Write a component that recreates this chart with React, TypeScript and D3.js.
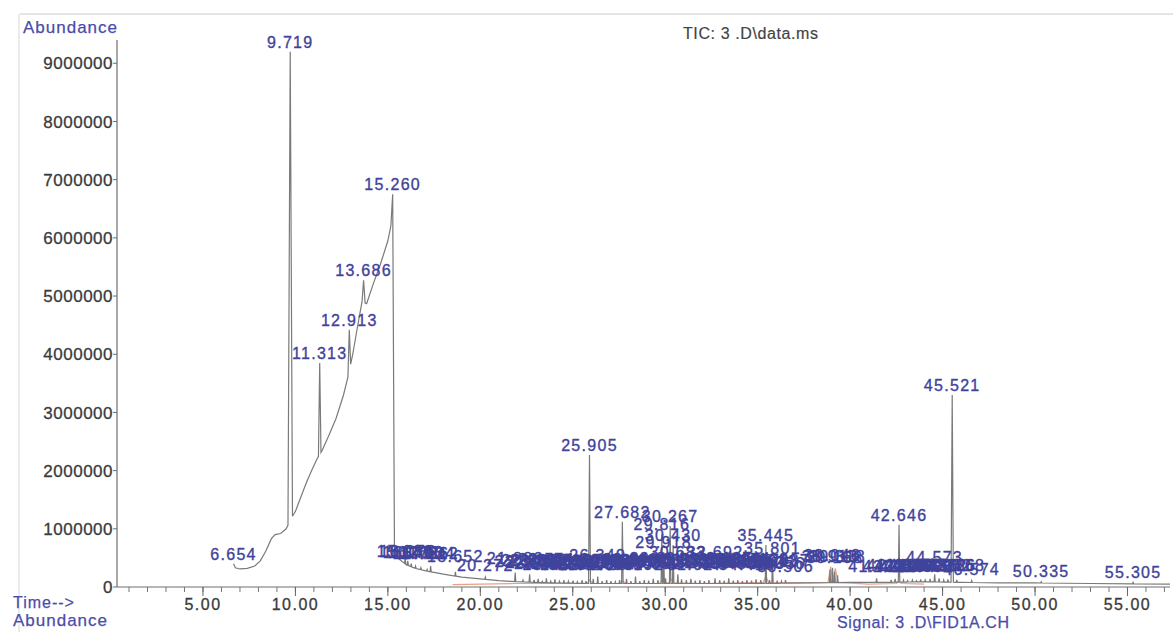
import React from "react";
import * as d3 from "d3";

// TIC trace baseline (minutes, abundance) without the spikes
const baseline: [number, number][] = [
  [6.654, 400000], [6.75, 330000], [7.0, 310000], [7.4, 320000], [7.8, 360000],
  [8.1, 450000], [8.4, 620000], [8.7, 830000], [8.9, 900000], [9.2, 920000],
  [9.5, 1000000], [9.65, 1100000], [9.85, 1220000], [10.0, 1300000], [10.3, 1550000],
  [10.6, 1800000], [10.9, 2020000], [11.2, 2220000], [11.45, 2350000], [11.8, 2600000],
  [12.2, 2900000], [12.6, 3300000], [12.85, 3620000], [13.1, 4000000], [13.4, 4550000],
  [13.6, 4900000], [13.85, 4870000], [14.2, 5200000], [14.6, 5550000], [15.0, 5950000],
  [15.22, 6300000], [15.32, 550000], [15.6, 480000], [16.0, 380000], [16.5, 320000],
  [17.0, 280000], [17.5, 250000], [18.0, 220000], [19.0, 170000], [20.0, 140000],
  [21.0, 110000], [22.0, 90000], [24.0, 70000], [26.0, 60000], [30.0, 60000],
  [35.0, 60000], [38.0, 70000], [40.0, 80000], [42.0, 80000], [44.0, 90000],
  [46.0, 80000], [48.0, 70000], [50.0, 70000], [53.0, 60000], [57.3, 50000],
];

// big labelled peaks: retention time, apex abundance (label sits on the apex)
const majorPeaks: [number, number][] = [
  [6.654, 400000], [9.719, 9200000], [11.313, 3850000], [12.913, 4420000],
  [13.686, 5270000], [15.26, 6750000], [25.905, 2270000], [27.682, 1120000],
  [29.816, 910000], [29.918, 600000], [30.267, 1050000], [30.43, 720000],
  [35.445, 720000], [35.801, 500000], [42.646, 1070000], [45.521, 3300000],
];

// small peaks: retention time, apex abundance, label level
const minorPeaks: [number, number, number][] = [
  [15.936, 500000, 440000], [16.076, 450000, 440000], [16.262, 400000, 430000],
  [16.498, 360000, 430000], [16.786, 330000, 420000], [17.124, 300000, 420000],
  [17.312, 360000, 410000], [18.652, 260000, 360000], [20.272, 170000, 200000],
  [21.886, 250000, 320000], [22.307, 120000, 270000], [22.667, 220000, 300000],
  [22.905, 120000, 250000], [23.128, 140000, 290000], [23.351, 100000, 240000],
  [23.574, 150000, 310000], [23.812, 100000, 220000], [24.035, 130000, 280000],
  [24.281, 100000, 240000], [24.518, 120000, 300000], [24.764, 100000, 220000],
  [25.012, 110000, 270000], [25.248, 90000, 240000], [25.503, 120000, 290000],
  [25.718, 100000, 220000], [26.107, 140000, 260000], [26.349, 180000, 380000],
  [26.588, 100000, 280000], [26.832, 120000, 240000], [27.064, 100000, 300000],
  [27.301, 90000, 220000], [27.533, 120000, 280000], [27.907, 140000, 250000],
  [28.146, 100000, 310000], [28.392, 180000, 230000], [28.624, 100000, 290000],
  [28.867, 120000, 250000], [29.105, 110000, 300000], [29.352, 140000, 240000],
  [29.604, 120000, 320000], [30.018, 150000, 280000], [30.683, 220000, 430000],
  [30.883, 130000, 300000], [31.142, 120000, 250000], [31.386, 140000, 310000],
  [31.627, 110000, 230000], [31.873, 120000, 290000], [32.118, 100000, 260000],
  [32.364, 120000, 310000], [32.692, 150000, 430000], [32.945, 120000, 270000],
  [33.187, 110000, 320000], [33.436, 150000, 240000], [33.681, 110000, 300000],
  [33.925, 120000, 260000], [34.174, 100000, 310000], [34.418, 120000, 230000],
  [34.667, 110000, 290000], [34.912, 130000, 250000], [35.168, 120000, 310000],
  [35.642, 120000, 270000], [36.056, 110000, 240000], [36.287, 100000, 300000],
  [36.506, 120000, 190000], [38.913, 300000, 360000], [39.046, 330000, 370000],
  [39.168, 260000, 350000], [39.318, 200000, 360000], [41.432, 150000, 190000],
  [42.218, 120000, 190000], [42.432, 140000, 200000], [42.885, 120000, 210000],
  [43.104, 110000, 190000], [43.367, 120000, 200000], [43.592, 110000, 210000],
  [43.815, 130000, 200000], [44.058, 120000, 190000], [44.326, 140000, 210000],
  [44.573, 220000, 340000], [44.812, 150000, 210000], [45.062, 120000, 200000],
  [45.286, 130000, 210000], [45.768, 120000, 200000], [46.574, 110000, 140000],
  [50.335, 90000, 100000], [55.305, 80000, 80000],
];

// FID signal overlay (orange, near the baseline)
const fidTrace: [number, number][] = [
  [18.5, 40000], [20.0, 50000], [22.0, 60000], [24.0, 60000], [25.8, 60000],
  [25.9, 120000], [26.1, 60000], [27.6, 60000], [27.7, 100000], [27.9, 60000],
  [29.7, 60000], [29.8, 120000], [30.0, 70000], [30.2, 70000], [30.3, 140000],
  [30.5, 70000], [32.0, 60000], [35.3, 80000], [35.45, 180000], [35.6, 70000],
  [38.8, 80000], [38.95, 350000], [39.05, 120000], [39.2, 320000], [39.35, 80000],
  [41.0, 50000], [42.5, 60000], [42.6, 90000], [42.8, 60000], [44.0, 50000],
];

const yTicks = [0, 1000000, 2000000, 3000000, 4000000, 5000000, 6000000, 7000000, 8000000, 9000000];
const xMajor = [5, 10, 15, 20, 25, 30, 35, 40, 45, 50, 55];
const xMinor = d3.range(1, 58);

const FONT = "'Liberation Sans', Arial, sans-serif";
const BLUE = "#3f439c";
const AXIS_BLUE = "#4a4caa";

const baseAt = (t: number) => {
  const i = d3.bisector((d: [number, number]) => d[0]).left(baseline, t);
  if (i <= 0) return baseline[0][1];
  if (i >= baseline.length) return baseline[baseline.length - 1][1];
  const [t0, v0] = baseline[i - 1];
  const [t1, v1] = baseline[i];
  return v0 + ((v1 - v0) * (t - t0)) / (t1 - t0);
};

export default function App() {
  const x = d3.scaleLinear().domain([0.35, 57.3]).range([117, 1170]);
  const y = d3.scaleLinear().domain([0, 9400000]).range([587, 40]);

  // merge baseline with the spikes
  const spikes = [
    ...majorPeaks.map(([t, top]) => ({ t, top })),
    ...minorPeaks.map(([t, top]) => ({ t, top })),
  ].map((s) => ({ ...s, hw: 0.03 + (0.01 * s.top) / 1e6 }));

  const tStart = baseline[0][0];
  const tEnd = baseline[baseline.length - 1][0];
  const pts: [number, number][] = baseline.filter(
    ([t]) => !spikes.some((s) => t >= s.t - s.hw && t <= s.t + s.hw)
  );
  spikes.forEach((s) => {
    const a = s.t - s.hw;
    const b = s.t + s.hw;
    if (a >= tStart) pts.push([a, baseAt(a)]);
    pts.push([s.t, s.top]);
    if (b <= tEnd) pts.push([b, baseAt(b)]);
  });
  pts.sort((p, q) => p[0] - q[0]);

  const line = d3
    .line<[number, number]>()
    .x((d) => x(d[0]))
    .y((d) => y(d[1]));

  const labels = [
    ...minorPeaks.map(([t, , lvl]) => ({ t, lvl })),
    ...majorPeaks.map(([t, top]) => ({ t, lvl: top })),
  ];

  return (
    <svg
      width={1173}
      height={632}
      style={{ position: "absolute", left: 0, top: 0, background: "#fff" }}
      fontFamily={FONT}
    >
      {/* faint page frame */}
      <line x1={20} x2={1173} y1={14} y2={14} stroke="#dcdcdc" strokeWidth={1.5} />
      <line x1={19} x2={19} y1={14} y2={632} stroke="#e4e4e4" strokeWidth={1.5} />

      {/* y axis */}
      <line x1={117} x2={117} y1={y(0)} y2={y(9400000)} stroke="#6e6e6e" strokeWidth={1.2} />
      {yTicks.map((v) => (
        <g key={v}>
          <line x1={113} x2={117} y1={y(v)} y2={y(v)} stroke="#6e6e6e" />
          <text
            x={113}
            y={y(v)}
            dy="0.36em"
            textAnchor="end"
            fontSize={17}
            letterSpacing={0.5}
            fill="#3a3a3a"
            stroke="#3a3a3a"
            strokeWidth={0.3}
          >
            {v}
          </text>
        </g>
      ))}

      {/* x axis */}
      <line x1={117} x2={1170} y1={y(0)} y2={y(0)} stroke="#6e6e6e" strokeWidth={1.2} />
      {xMinor.map((t) => (
        <line key={t} x1={x(t)} x2={x(t)} y1={y(0)} y2={y(0) + 5} stroke="#777" />
      ))}
      {xMajor.map((t) => (
        <g key={t}>
          <line x1={x(t)} x2={x(t)} y1={y(0)} y2={y(0) + 9} stroke="#666" />
          <text
            x={x(t)}
            y={610}
            textAnchor="middle"
            fontSize={16}
            letterSpacing={1.5}
            fill="#3a3a3a"
            stroke="#3a3a3a"
            strokeWidth={0.3}
          >
            {t.toFixed(2)}
          </text>
        </g>
      ))}

      {/* traces */}
      <path d={line(fidTrace) || ""} fill="none" stroke="#e08a6a" strokeWidth={1.2} opacity={0.8} />
      <path d={line(pts) || ""} fill="none" stroke="#7a7a7a" strokeWidth={1.2} />

      {/* peak labels */}
      {labels.map((l, i) => (
        <text
          key={i}
          x={x(l.t)}
          y={y(l.lvl) - 4}
          textAnchor="middle"
          fontSize={16}
          letterSpacing={1.3}
          fill={BLUE}
          stroke={BLUE}
          strokeWidth={0.35}
        >
          {l.t.toFixed(3)}
        </text>
      ))}

      {/* titles */}
      <text x={23} y={33} fontSize={17} letterSpacing={1} fill={AXIS_BLUE} stroke={AXIS_BLUE} strokeWidth={0.25}>Abundance</text>
      <text x={683} y={39} fontSize={16} letterSpacing={0.6} fill="#444" stroke="#444" strokeWidth={0.2}>TIC: 3 .D\data.ms</text>
      <text x={13} y={608} fontSize={16} letterSpacing={1} fill={AXIS_BLUE} stroke={AXIS_BLUE} strokeWidth={0.25}>Time--&gt;</text>
      <text x={13} y={626} fontSize={17} letterSpacing={1} fill={AXIS_BLUE} stroke={AXIS_BLUE} strokeWidth={0.25}>Abundance</text>
      <text x={837} y={628} fontSize={16} letterSpacing={0.6} fill={AXIS_BLUE} stroke={AXIS_BLUE} strokeWidth={0.25}>Signal: 3 .D\FID1A.CH</text>
    </svg>
  );
}
